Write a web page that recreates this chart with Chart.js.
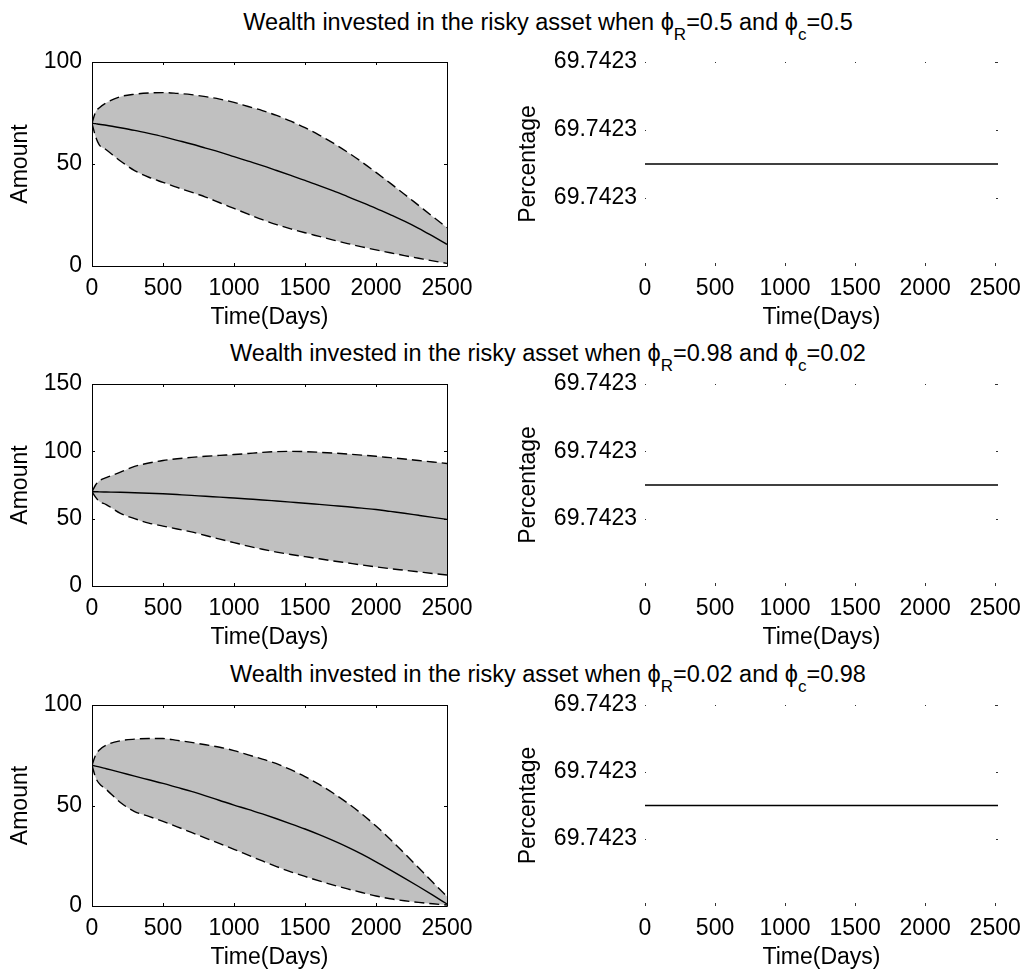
<!DOCTYPE html>
<html>
<head>
<meta charset="utf-8">
<script src="https://cdn.jsdelivr.net/npm/chart.js@4.4.1/dist/chart.umd.min.js"></script>
<style>
  body { margin: 0; background: #fff; width: 1027px; height: 973px; overflow: hidden; position: relative;
         font-family: "Liberation Sans", Arial, sans-serif; }
  canvas { position: absolute; }
  .ttl { position: absolute; font-size: 23.5px; line-height: 22px; white-space: nowrap; color: #000;
         transform: translateX(-50%); }
  .ttl sub { font-size: 17px; vertical-align: -10px; line-height: 0; }
</style>
</head>
<body>
<script>
// --- データ ---
const days = [0, 25, 50, 100, 200, 300, 400, 500, 600, 700, 800, 900, 1000, 1100, 1200,
              1300, 1400, 1500, 1600, 1700, 1800, 1900, 2000, 2100, 2200, 2300, 2400, 2500];

// 1段目: phiR=0.5, phic=0.5
const wealthUpper1 = [70, 75.5, 77.5, 80, 83, 84.2, 84.8, 85, 84.6, 84, 83, 81.8, 80.2, 78.2, 76.2,
                      73.8, 71, 67.8, 64.2, 60.2, 55.8, 51, 45.9, 40.6, 35.2, 29.7, 24.2, 18.8];
const wealthMid1   = [70, 69.8, 69.5, 69, 67.8, 66.5, 65, 63.4, 61.6, 59.8, 57.8, 55.8, 53.6, 51.4, 49.2,
                      46.8, 44.4, 42, 39.4, 36.8, 34, 31.2, 28.3, 25.2, 22, 18.5, 14.6, 10.6];
const wealthLower1 = [70, 63.5, 59.5, 57, 51.5, 46.8, 43.5, 41, 38.5, 36.2, 33.8, 31, 28.2, 25.4, 22.7,
                      20.3, 18.2, 16.3, 14.5, 12.7, 11, 9.4, 7.9, 6.5, 5.1, 3.8, 2.5, 1.3];

// 2段目: phiR=0.98, phic=0.02
const wealthUpper2 = [70, 75, 78, 80.5, 84.5, 88.8, 91.3, 93.2, 94.5, 95.5, 96.3, 97, 97.6, 98.4, 99.2,
                      99.8, 100, 99.8, 99.3, 98.7, 98, 97.2, 96.3, 95.3, 94.3, 93.2, 92.1, 91];
const wealthMid2   = [70, 70, 69.9, 69.8, 69.6, 69.2, 68.9, 68.5, 67.9, 67.3, 66.6, 66, 65.3, 64.6, 63.9,
                      63.1, 62.3, 61.5, 60.6, 59.7, 58.8, 57.8, 56.8, 55.4, 54, 52.5, 51, 49.5];
const wealthLower2 = [70, 66, 63, 60.5, 54, 50, 46.7, 44.5, 42.3, 40.2, 37.5, 34.8, 32.2, 29.6, 27.3,
                      25.2, 23.4, 21.8, 20.2, 18.6, 17.1, 15.6, 14.2, 12.9, 11.7, 10.5, 9.3, 8.2];

// 3段目: phiR=0.02, phic=0.98
const wealthUpper3 = [70, 75, 77.5, 80, 82.2, 83, 83.3, 83.3, 82.4, 81.4, 80.2, 79, 77.3, 75.2, 73.1,
                      70.8, 67.8, 64.4, 60.5, 56.1, 51.2, 45.8, 39.8, 33.2, 26.2, 19, 11.8, 4.7];
const wealthMid3   = [70, 69.6, 69.2, 68.3, 66.5, 64.6, 62.8, 61, 59, 57, 54.8, 52.5, 50.2, 48.1, 45.8,
                      43.4, 40.9, 38.3, 35.5, 32.5, 29.3, 25.8, 22, 18, 13.9, 9.7, 5.4, 1];
const wealthLower3 = [70, 64, 61, 58, 51.5, 47, 44.6, 42.1, 39.4, 36.6, 33.8, 31, 28.2, 25.3, 22.4,
                      19.6, 17, 14.7, 12.5, 10.4, 8.5, 6.7, 5, 3.6, 2.6, 1.8, 1.1, 0.5];

// 右列: 割合 (一定値)
const pctDays = [0, 2520];
const pctValues = [69.7423, 69.7423];
const pctSpread = 0.00001; // 目盛り間隔

const timeTicks = [0, 500, 1000, 1500, 2000, 2500];
const amountTicks1 = [0, 50, 100];
const amountTicks2 = [0, 50, 100, 150];
const amountTicks3 = [0, 50, 100];

const titleParams = [['0.5', '0.5'], ['0.98', '0.02'], ['0.02', '0.98']];

// --- レイアウト ---
const rows = [{ top: 62, h: 204 }, { top: 384, h: 202 }, { top: 705, h: 201 }];
const FONT = { family: '"Liberation Sans", Arial, sans-serif', size: 23 };
const X_AXIS_H = 65;
const PAD_TOP = 14;

// 目盛り(内向き)と枠を描くプラグイン
const tickMarks = {
    id: 'tickMarks',
    afterDraw(chart, args, opts) {
        const { ctx, chartArea: a, scales: { x, y } } = chart;
        ctx.save();
        ctx.strokeStyle = opts.color || '#000';
        ctx.lineWidth = 1;
        ctx.beginPath();
        x.ticks.forEach(t => {
            const px = Math.round(x.getPixelForValue(t.value)) + 0.5;
            ctx.moveTo(px, a.bottom); ctx.lineTo(px, a.bottom - opts.bottom);
            ctx.moveTo(px, a.top); ctx.lineTo(px, a.top + opts.top);
        });
        y.ticks.forEach(t => {
            const py = Math.round(y.getPixelForValue(t.value)) + 0.5;
            ctx.moveTo(a.left, py); ctx.lineTo(a.left + opts.left, py);
            ctx.moveTo(a.right, py); ctx.lineTo(a.right - opts.right, py);
        });
        if (opts.box) {
            ctx.rect(Math.round(a.left) + 0.5, Math.round(a.top) + 0.5,
                     Math.round(a.right - a.left), Math.round(a.bottom - a.top));
        }
        ctx.stroke();
        ctx.restore();
    }
};

function fixedAxis(size, horizontal) {
    return function (scale) {
        if (horizontal) scale.height = size; else scale.width = size;
        scale.paddingTop = 0; scale.paddingBottom = 0;
        scale.paddingLeft = 0; scale.paddingRight = 0;
    };
}

function addCanvas(left, top, width, height) {
    const c = document.createElement('canvas');
    c.width = width; c.height = height;
    c.style.left = left + 'px'; c.style.top = top + 'px';
    c.style.width = width + 'px'; c.style.height = height + 'px';
    document.body.appendChild(c);
    return c;
}

function xAxisOptions(max) {
    return {
        type: 'linear', min: 0, max: max,
        afterBuildTicks: s => { s.ticks = timeTicks.map(v => ({ value: v })); },
        afterFit: fixedAxis(X_AXIS_H, true),
        grid: { display: false, drawTicks: false },
        border: { display: false },
        ticks: { color: '#000', font: FONT, padding: 9, maxRotation: 0, autoSkip: false,
                 callback: v => String(v) },
        title: { display: true, text: 'Time(Days)', color: '#000', font: FONT, padding: 0 }
    };
}

function drawWealthChart(row, upper, mid, lower, yTicks) {
    const r = rows[row];
    const canvas = addCanvas(0, r.top - PAD_TOP, 500, PAD_TOP + r.h + X_AXIS_H);
    const pts = arr => days.map((d, i) => ({ x: d, y: arr[i] }));
    const lineBase = { borderColor: '#000', pointRadius: 0, cubicInterpolationMode: 'monotone' };
    new Chart(canvas, {
        type: 'line',
        data: {
            datasets: [
                { ...lineBase, data: pts(upper), borderWidth: 1.4, borderDash: [10, 5],
                  backgroundColor: '#c0c0c0', fill: '+1' },
                { ...lineBase, data: pts(lower), borderWidth: 1.4, borderDash: [10, 5], fill: false },
                { ...lineBase, data: pts(mid), borderWidth: 1.4, fill: false }
            ]
        },
        options: {
            responsive: false, animation: false, devicePixelRatio: 1,
            layout: { padding: { left: 7, right: 53, top: PAD_TOP, bottom: 0 } },
            scales: {
                x: xAxisOptions(2500),
                y: {
                    type: 'linear', min: 0, max: yTicks[yTicks.length - 1],
                    afterBuildTicks: s => { s.ticks = yTicks.map(v => ({ value: v })); },
                    afterFit: fixedAxis(85, false),
                    grid: { display: false, drawTicks: false },
                    border: { display: false },
                    ticks: { color: '#000', font: FONT, padding: 10, callback: v => String(v) },
                    title: { display: true, text: 'Amount', color: '#000', font: FONT, padding: 0 }
                }
            },
            plugins: {
                legend: { display: false }, tooltip: { enabled: false },
                filler: { drawTime: 'beforeDatasetsDraw' },
                tickMarks: { box: true, top: 3, bottom: 3, left: 3, right: 3 }
            }
        },
        plugins: [tickMarks]
    });
}

function drawPercentChart(row) {
    const r = rows[row];
    const canvas = addCanvas(500, r.top - PAD_TOP, 527, PAD_TOP + r.h + X_AXIS_H);
    const level = pctValues[0];
    const pctTicks = [level - 0.5 * pctSpread, level + 0.5 * pctSpread, level + 1.5 * pctSpread];
    new Chart(canvas, {
        type: 'line',
        data: {
            datasets: [
                { data: pctDays.map((d, i) => ({ x: d, y: pctValues[i] })),
                  borderColor: '#000', borderWidth: 1.6, fill: false, pointRadius: 0 }
            ]
        },
        options: {
            responsive: false, animation: false, devicePixelRatio: 1,
            layout: { padding: { left: 15, right: 29, top: PAD_TOP, bottom: 0 } },
            scales: {
                x: xAxisOptions(2520),
                y: {
                    type: 'linear', min: level - 1.5 * pctSpread, max: level + 1.5 * pctSpread,
                    afterBuildTicks: s => { s.ticks = pctTicks.map(v => ({ value: v })); },
                    afterFit: fixedAxis(130, false),
                    grid: { display: false, drawTicks: false },
                    border: { display: false },
                    ticks: { color: '#000', font: FONT, padding: 8, callback: v => v.toFixed(4) },
                    title: { display: true, text: 'Percentage', color: '#000', font: FONT, padding: 0 }
                }
            },
            plugins: {
                legend: { display: false }, tooltip: { enabled: false },
                tickMarks: { box: false, top: 1, bottom: 3, left: 1, right: 2, color: '#333' }
            }
        },
        plugins: [tickMarks]
    });
}

// タイトル (HTMLテキスト)
const titleTops = [11, 342, 663];
titleParams.forEach((p, i) => {
    const d = document.createElement('div');
    d.className = 'ttl';
    d.style.left = '548px';
    d.style.top = titleTops[i] + 'px';
    d.innerHTML = 'Wealth invested in the risky asset when \u03d5<sub>R</sub>=' + p[0] +
                  ' and \u03d5<sub>c</sub>=' + p[1];
    document.body.appendChild(d);
});

drawWealthChart(0, wealthUpper1, wealthMid1, wealthLower1, amountTicks1);
drawWealthChart(1, wealthUpper2, wealthMid2, wealthLower2, amountTicks2);
drawWealthChart(2, wealthUpper3, wealthMid3, wealthLower3, amountTicks3);
drawPercentChart(0);
drawPercentChart(1);
drawPercentChart(2);
</script>
</body>
</html>
